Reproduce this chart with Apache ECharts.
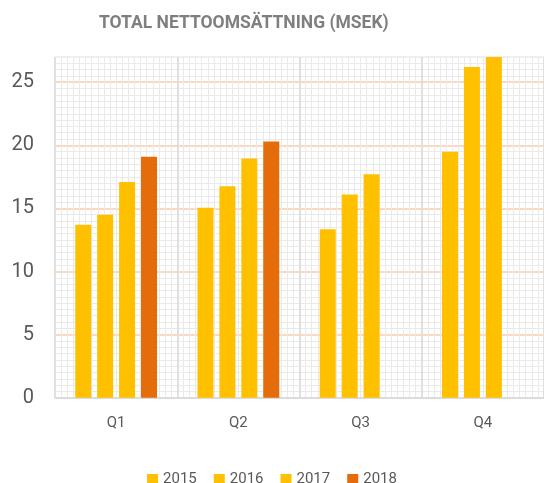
<!DOCTYPE html>
<html>
<head>
<meta charset="utf-8">
<script src="https://cdn.jsdelivr.net/npm/echarts@6/dist/echarts.min.js"></script>
<style>
  html, body { margin: 0; padding: 0; background: #fff; }
  #chart { width: 544px; height: 483px; }
</style>
</head>
<body>
<div id="chart"></div>
<script>
// quarters and yearly series (MSEK)
const quarters = ['Q1', 'Q2', 'Q3', 'Q4'];
const years = ['2015', '2016', '2017', '2018'];
const v2015 = [13.7, 15.05, 13.35, 19.5];
const v2016 = [14.5, 16.75, 16.1, 26.2];
const v2017 = [17.1, 18.95, 17.7, 27.0];
const v2018 = [19.1, 20.3, null, null];
const yTicks = [0, 5, 10, 15, 20, 25];

const yellow = '#FFC000';
const orange = '#E46C0A';
const labelColor = '#595959';
const minorColor = '#eaeaea';

function bar(name, data, color) {
  return {
    name: name,
    type: 'bar',
    barWidth: 16,
    barGap: '37%',
    itemStyle: { color: color },
    data: data
  };
}

const chart = echarts.init(document.getElementById('chart'));
chart.setOption({
  backgroundColor: '#fff',
  animation: false,
  title: {
    text: 'TOTAL NETTOOMSÄTTNING (MSEK)',
    left: 94,
    top: 10,
    textStyle: { color: '#7f7f7f', fontSize: 17.5, fontWeight: 'bold', fontFamily: 'Roboto' }
  },
  legend: {
    data: years,
    left: 'center',
    top: 467,
    itemWidth: 11,
    itemHeight: 11,
    itemGap: 17,
    icon: 'rect',
    textStyle: { color: labelColor, fontSize: 15, fontFamily: 'Roboto' }
  },
  grid: { left: 55, top: 57, width: 490, bottom: 85.3, containLabel: false },
  xAxis: [{
    type: 'category',
    data: quarters,
    axisLine: { lineStyle: { color: '#d9d9d9', width: 1.5 } },
    axisTick: { show: false },
    axisLabel: { color: labelColor, fontSize: 15, fontFamily: 'Roboto', margin: 18 },
    splitLine: { show: false }
  }, {
    type: 'value',
    min: 0,
    max: 4,
    interval: 1,
    position: 'bottom',
    axisLine: { show: false },
    axisTick: { show: false },
    axisLabel: { show: false },
    splitLine: { show: true, lineStyle: { color: '#e0e0e0', width: 2 } },
    minorTick: { show: false, splitNumber: 20 },
    minorSplitLine: { show: true, lineStyle: { color: minorColor, width: 1 } }
  }],
  yAxis: {
    type: 'value',
    min: yTicks[0],
    max: 27,
    interval: 5,
    axisLine: { show: false },
    axisTick: { show: false },
    axisLabel: {
      color: labelColor, fontSize: 20, fontFamily: 'Roboto', margin: 21,
      showMaxLabel: false,
      formatter: function (v) { return yTicks.indexOf(v) >= 0 ? String(v) : ''; }
    },
    splitLine: {
      lineStyle: {
        color: ['#d9d9d9', '#F8CBAD', '#F8CBAD', '#F8CBAD', '#F8CBAD', '#F8CBAD', minorColor],
        width: 1.5
      }
    },
    minorTick: { show: false, splitNumber: 10 },
    minorSplitLine: { show: true, lineStyle: { color: minorColor, width: 1 } }
  },
  series: [
    bar('2015', v2015, yellow),
    bar('2016', v2016, yellow),
    bar('2017', v2017, yellow),
    bar('2018', v2018, orange)
  ]
});
</script>
</body>
</html>
